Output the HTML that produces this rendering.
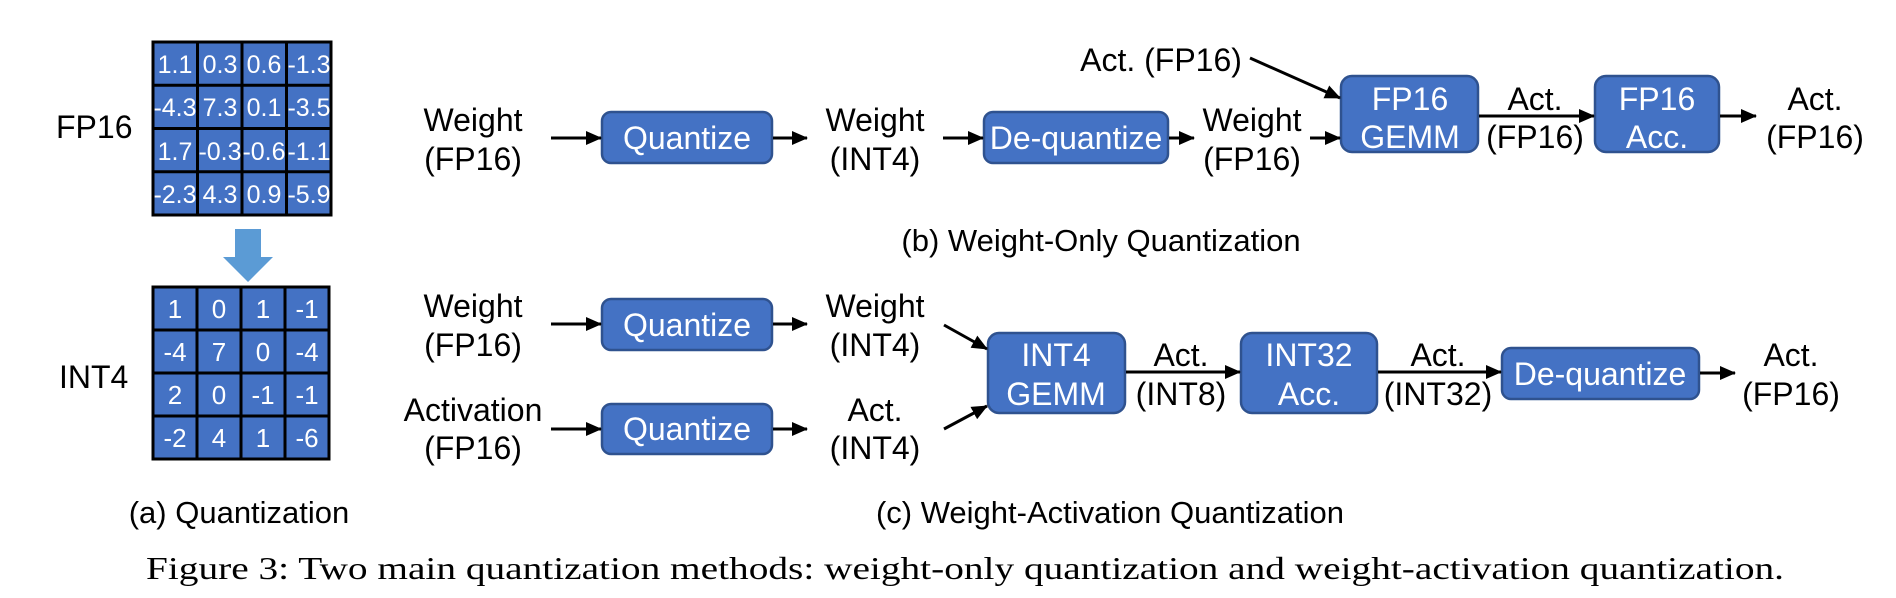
<!DOCTYPE html>
<html><head><meta charset="utf-8"><style>
html,body{margin:0;padding:0;background:#fff;}
svg{display:block;}
text{font-family:"Liberation Sans",Arial,sans-serif;}
</style></head><body>
<svg width="1896" height="598" viewBox="0 0 1896 598" xmlns="http://www.w3.org/2000/svg">
<defs>
<marker id="ah" markerWidth="16" markerHeight="14" refX="15" refY="7" orient="auto" markerUnits="userSpaceOnUse">
<path d="M0,0 L16,7 L0,14 Z" fill="#000"/>
</marker>
</defs>
<rect width="1896" height="598" fill="#fff"/>

<g font-size="25" fill="#fff" text-anchor="middle">
<rect x="153" y="42" width="178" height="173" fill="#4472C4" stroke="#000" stroke-width="3"/>
<path d="M197.5,42V215M242,42V215M286.5,42V215M153,85.25H331M153,128.5H331M153,171.75H331" stroke="#000" stroke-width="3"/>
<text x="175" y="73">1.1</text><text x="220" y="73">0.3</text><text x="264" y="73">0.6</text><text x="309" y="73">-1.3</text>
<text x="175" y="116">-4.3</text><text x="220" y="116">7.3</text><text x="264" y="116">0.1</text><text x="309" y="116">-3.5</text>
<text x="175" y="160">1.7</text><text x="220" y="160">-0.3</text><text x="264" y="160">-0.6</text><text x="309" y="160">-1.1</text>
<text x="175" y="203">-2.3</text><text x="220" y="203">4.3</text><text x="264" y="203">0.9</text><text x="309" y="203">-5.9</text>
</g>
<g font-size="26" fill="#fff" text-anchor="middle">
<rect x="153" y="287" width="176" height="172" fill="#4472C4" stroke="#000" stroke-width="3"/>
<path d="M197,287V459M241,287V459M285,287V459M153,330H329M153,373H329M153,416H329" stroke="#000" stroke-width="3"/>
<text x="175" y="318">1</text><text x="219" y="318">0</text><text x="263" y="318">1</text><text x="307" y="318">-1</text>
<text x="175" y="361">-4</text><text x="219" y="361">7</text><text x="263" y="361">0</text><text x="307" y="361">-4</text>
<text x="175" y="404">2</text><text x="219" y="404">0</text><text x="263" y="404">-1</text><text x="307" y="404">-1</text>
<text x="175" y="447">-2</text><text x="219" y="447">4</text><text x="263" y="447">1</text><text x="307" y="447">-6</text>
</g>
<path d="M235,229H261V257H273L248,282L223,257H235Z" fill="#5B9BD5"/>
<text x="56" y="138" font-size="32">FP16</text>
<text x="59" y="388" font-size="32">INT4</text>

<g fill="#4472C4" stroke="#2F528F" stroke-width="2.5">
<rect x="602" y="112" width="170" height="51" rx="9"/>
<rect x="984" y="112" width="184" height="51" rx="9"/>
<rect x="1341" y="76" width="137" height="76" rx="11"/>
<rect x="1595" y="76" width="124" height="76" rx="11"/>
<rect x="602" y="299" width="170" height="51" rx="9"/>
<rect x="602" y="404" width="170" height="50" rx="9"/>
<rect x="988" y="333" width="137" height="80" rx="11"/>
<rect x="1241" y="333" width="136" height="80" rx="11"/>
<rect x="1502" y="348" width="197" height="51" rx="9"/>
</g>
<g fill="#fff" font-size="32" text-anchor="middle">
<text x="687" y="149">Quantize</text>
<text x="1076" y="149">De-quantize</text>
<text x="1410" y="110">FP16</text><text x="1410" y="148">GEMM</text>
<text x="1657" y="110">FP16</text><text x="1657" y="148">Acc.</text>
<text x="687" y="336">Quantize</text>
<text x="687" y="440">Quantize</text>
<text x="1056" y="366">INT4</text><text x="1056" y="405">GEMM</text>
<text x="1309" y="366">INT32</text><text x="1309" y="405">Acc.</text>
<text x="1600" y="385">De-quantize</text>
</g>

<g fill="#000" font-size="32" text-anchor="middle">
<text x="473" y="131">Weight</text><text x="473" y="170">(FP16)</text>
<text x="875" y="131">Weight</text><text x="875" y="170">(INT4)</text>
<text x="1252" y="131">Weight</text><text x="1252" y="170">(FP16)</text>
<text x="1161" y="71">Act. (FP16)</text>
<text x="1535" y="110">Act.</text><text x="1535" y="148">(FP16)</text>
<text x="1815" y="110">Act.</text><text x="1815" y="148">(FP16)</text>
<text x="1101" y="251" font-size="31">(b) Weight-Only Quantization</text>
<text x="473" y="317">Weight</text><text x="473" y="356">(FP16)</text>
<text x="473" y="421">Activation</text><text x="473" y="459">(FP16)</text>
<text x="875" y="317">Weight</text><text x="875" y="356">(INT4)</text>
<text x="875" y="421">Act.</text><text x="875" y="459">(INT4)</text>
<text x="1181" y="366">Act.</text><text x="1181" y="405">(INT8)</text>
<text x="1438" y="366">Act.</text><text x="1438" y="405">(INT32)</text>
<text x="1791" y="366">Act.</text><text x="1791" y="405">(FP16)</text>
<text x="239" y="523" font-size="31">(a) Quantization</text>
<text x="1110" y="523" font-size="31">(c) Weight-Activation Quantization</text>
</g>
<text x="146" y="579" style="font-family:'Liberation Serif','Times New Roman',serif;font-size:32px" textLength="1638" lengthAdjust="spacingAndGlyphs">Figure 3: Two main quantization methods: weight-only quantization and weight-activation quantization.</text>

<g stroke="#000" stroke-width="3" marker-end="url(#ah)" fill="none">
<line x1="551" y1="138" x2="601" y2="138"/>
<line x1="773" y1="138" x2="807" y2="138"/>
<line x1="943" y1="138" x2="983" y2="138"/>
<line x1="1169" y1="138" x2="1194" y2="138"/>
<line x1="1310" y1="138" x2="1340" y2="138"/>
<line x1="1250" y1="58" x2="1340" y2="98"/>
<line x1="1479" y1="116" x2="1594" y2="116"/>
<line x1="1720" y1="116" x2="1756" y2="116"/>
<line x1="551" y1="324" x2="601" y2="324"/>
<line x1="773" y1="324" x2="807" y2="324"/>
<line x1="551" y1="429" x2="601" y2="429"/>
<line x1="773" y1="429" x2="807" y2="429"/>
<line x1="944" y1="325" x2="987" y2="349"/>
<line x1="944" y1="429" x2="987" y2="406"/>
<line x1="1126" y1="372" x2="1240" y2="372"/>
<line x1="1378" y1="372" x2="1501" y2="372"/>
<line x1="1700" y1="373" x2="1735" y2="373"/>
</g>
</svg>
</body></html>
